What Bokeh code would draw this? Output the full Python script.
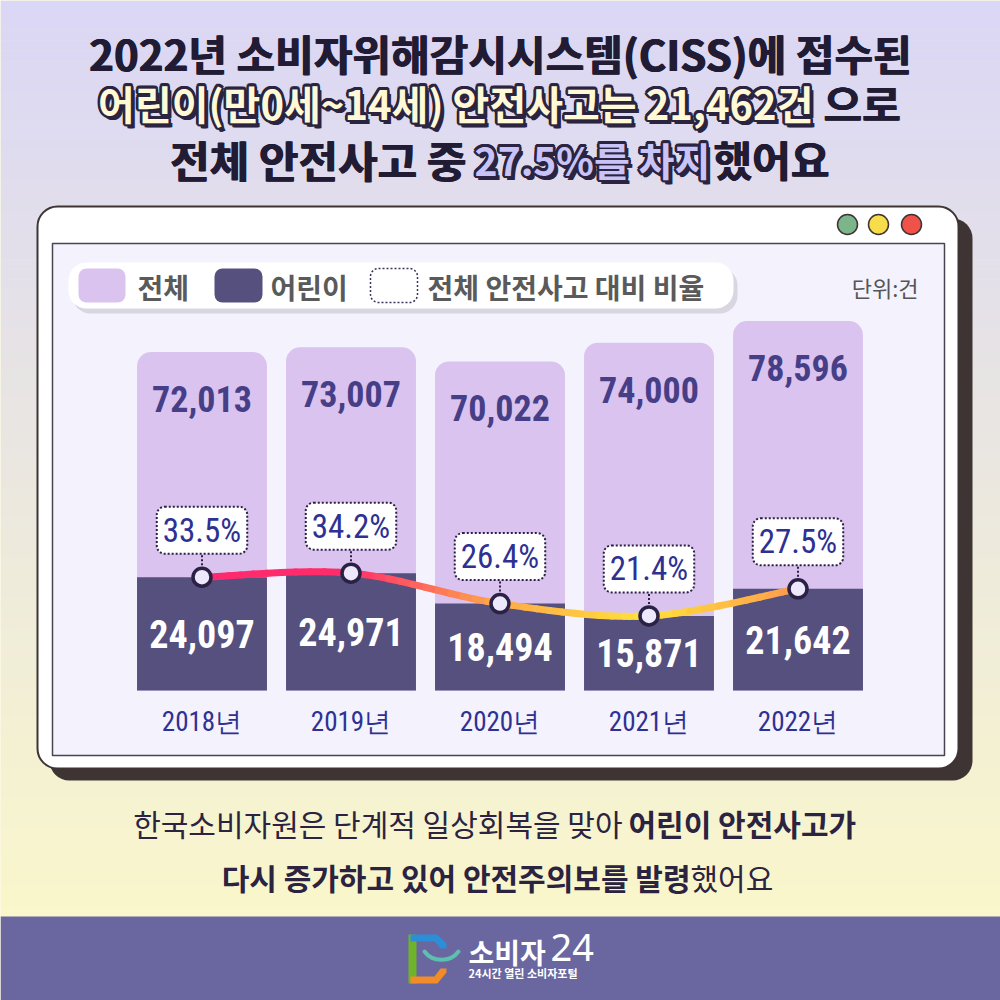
import numpy as np
from bokeh.plotting import figure
from bokeh.models import Range1d, ColumnDataSource
from bokeh.core.properties import value
from bokeh.embed import file_html
from bokeh.resources import INLINE

# ---------------- data ----------------
years = ["2018년", "2019년", "2020년", "2021년", "2022년"]
total = [72013, 73007, 70022, 74000, 78596]
children = [24097, 24971, 18494, 15871, 21642]
ratio = [33.5, 34.2, 26.4, 21.4, 27.5]
legend_labels = ["전체", "어린이", "전체 안전사고 대비 비율"]
unit_label = "단위:건"

KR = value("Noto Sans CJK KR")
COND = value("Roboto Condensed")

p = figure(width=1000, height=1000, x_range=Range1d(0, 1000), y_range=Range1d(1000, 0),
           output_backend="svg", toolbar_location=None, min_border=0,
           x_axis_location=None, y_axis_location=None, outline_line_color=None)
p.background_fill_color = "#f9f6cd"
p.border_fill_color = "#f9f6cd"
# category index scale for bars: slot spacing 149 px, centred on the page
p.extra_x_ranges = {"yr": Range1d(2 - 499.5 / 149, 2 + 500.5 / 149)}
p.extra_y_ranges = {"val": Range1d(-65957, 146809)}

# ---------------- background ----------------
n = 92
edges = np.linspace(0, 916, n + 1)
c0 = np.array([219, 215, 246]); c1 = np.array([250, 247, 204])
cols = []
for i in range(n):
    t = i / (n - 1)
    c = (c0 * (1 - t) + c1 * t).astype(int)
    cols.append("#%02x%02x%02x" % tuple(c))
p.quad(left=0, right=1000, top=edges[:-1], bottom=edges[1:] + 0.5, fill_color=cols, line_color=None)
p.quad(left=0, right=1000, top=916, bottom=1000, fill_color="#6a66a0", line_color=None)

# ---------------- window ----------------
p.quad(left=49, right=972, top=218, bottom=780, fill_color="#3d3433", line_color=None, border_radius=20)
p.quad(left=37, right=958, top=206, bottom=768, fill_color="white", line_color="#3d3433",
       line_width=2, border_radius=20)
p.quad(left=52, right=944, top=243, bottom=755, fill_color="#f4f2fd", line_color="#4a4450", line_width=1.5)
p.scatter(x=[847, 878, 911], y=[224, 224, 224], size=20,
          fill_color=["#7db58b", "#f7dc4c", "#f0524a"], line_color="#3d3433", line_width=1.5)

# ---------------- legend ----------------
p.quad(left=72, right=737, top=267, bottom=313, fill_color="#d9d6e2", line_color=None, border_radius=18)
p.quad(left=68, right=733, top=262, bottom=308, fill_color="white", line_color=None, border_radius=18)
p.quad(left=[78, 214], right=[125, 262], top=268, bottom=302,
       fill_color=["#dac3ef", "#56507e"], line_color=None, border_radius=8)
p.quad(left=370, right=417, top=268, bottom=302, fill_color="white", line_color="#3a3560",
       line_dash="2 2", line_width=1.5, border_radius=8)
p.text(x=[137, 270, 427], y=[286, 286, 286], text=legend_labels, text_font=KR,
       text_font_style="bold", text_font_size="28px", text_color="#5a5a5a",
       text_align="left", text_baseline="middle")
p.text(x=[918], y=[286], text=[unit_label], text_font=KR, text_font_size="22px",
       text_color="#555555", text_align="right", text_baseline="middle")

# ---------------- bars ----------------
src = ColumnDataSource(dict(
    idx=list(range(len(years))), years=years, total=total, children=children,
    child_mid=[v / 2 for v in children],
    total_labels=[f"{v:,}" for v in total],
    child_labels=[f"{v:,}" for v in children],
    ratio_labels=[f"{v}%" for v in ratio],
    zero=[0] * len(years),
))
R = dict(x_range_name="yr", y_range_name="val")
p.vbar(x="idx", top="total", bottom=0, width=0.872, source=src, fill_color="#dac3ef",
       line_color=None, border_radius=(14, 14, 0, 0), **R)
p.vbar(x="idx", top="children", bottom=0, width=0.872, source=src, fill_color="#56507e",
       line_color=None, **R)
p.text(x="idx", y="total", text="total_labels", source=src, y_offset=47, text_font=COND,
       text_font_style="bold", text_font_size="36px", text_color="#463f87",
       text_align="center", text_baseline="middle", **R)
p.text(x="idx", y="child_mid", text="child_labels", source=src, text_font=COND,
       text_font_style="bold", text_font_size="38px", text_color="white",
       text_align="center", text_baseline="middle", **R)
p.text(x="idx", y="zero", text="years", source=src, y_offset=31, text_font=COND,
       text_font_size="27px", text_color="#2e3192",
       text_align="center", text_baseline="middle", **R)

# ---------------- ratio curve ----------------
xs = np.arange(len(years), dtype=float)
ys = np.array(children, dtype=float)
node_cols = [(255, 42, 110), (255, 45, 108), (255, 168, 74), (255, 226, 58), (255, 150, 80)]

def blossom(P, u, v, w):
    Q = [(1 - u) * P[i] + u * P[i + 1] for i in range(3)]
    Rr = [(1 - v) * Q[i] + v * Q[i + 1] for i in range(2)]
    return (1 - w) * Rr[0] + w * Rr[1]

bx0, by0, bx1, by1, bcx0, bcy0, bcx1, bcy1, bcol = ([] for _ in range(9))
m = 12
npts = len(xs)
for i in range(npts - 1):
    i0 = max(i - 1, 0); i3 = min(i + 2, npts - 1)
    P0 = np.array([xs[i], ys[i]]); P3 = np.array([xs[i + 1], ys[i + 1]])
    C1 = P0 + (np.array([xs[i + 1], ys[i + 1]]) - np.array([xs[i0], ys[i0]])) / 6
    C2 = P3 - (np.array([xs[i3], ys[i3]]) - np.array([xs[i], ys[i]])) / 6
    P = [P0, C1, C2, P3]
    for k in range(m):
        a = k / m; b = (k + 1) / m
        q0 = blossom(P, a, a, a); q1 = blossom(P, a, a, b)
        q2 = blossom(P, a, b, b); q3 = blossom(P, b, b, b)
        bx0.append(q0[0]); by0.append(q0[1]); bx1.append(q3[0]); by1.append(q3[1])
        bcx0.append(q1[0]); bcy0.append(q1[1]); bcx1.append(q2[0]); bcy1.append(q2[1])
        t = (k + 0.5) / m
        c = np.array(node_cols[i]) * (1 - t) + np.array(node_cols[i + 1]) * t
        bcol.append("#%02x%02x%02x" % tuple(c.astype(int)))
p.bezier(x0=bx0, y0=by0, x1=bx1, y1=by1, cx0=bcx0, cy0=bcy0, cx1=bcx1, cy1=bcy1,
         line_color=bcol, line_width=7, line_cap="round", **R)

p.ray(x="idx", y="children", source=src, length=27, length_units="screen", angle=90,
      angle_units="deg", line_color="#2a2145", line_width=2, line_dash="2 2", **R)
p.scatter(x="idx", y="children", source=src, size=18, fill_color="#ede8fb",
          line_color="#2a2145", line_width=3.5, **R)
p.text(x="idx", y="children", text="ratio_labels", source=src, y_offset=-47,
       text_font=COND, text_font_size="33px", text_color="#2e3192",
       text_align="center", text_baseline="middle",
       background_fill_color="white", border_line_color="#2a2145", border_line_width=2,
       border_line_dash="2 2", padding=(6, 4), border_radius=8, **R)

# ---------------- titles ----------------
DARK = "#211c33"

def heavy(x, y, s, size, align, color=DARK, font_style="bold"):
    offs = [(-0.6, 0), (0.6, 0), (0, 0)]
    p.text(x=[x + dx for dx, dy in offs], y=[y + dy for dx, dy in offs], text=[s] * len(offs),
           text_font=KR, text_font_style=font_style, text_font_size=size, text_color=color,
           text_align=align, text_baseline="middle")

def outlined(x, y, s, size, fill, align):
    offs = [(2.6 * np.cos(a), 2.6 * np.sin(a)) for a in np.linspace(0, 2 * np.pi, 12, endpoint=False)]
    offs += [(3, 4), (4, 4.5), (2, 4.5)]
    p.text(x=[x + dx for dx, dy in offs], y=[y + dy for dx, dy in offs], text=[s] * len(offs),
           text_font=KR, text_font_style="bold", text_font_size=size, text_color="#2a2440",
           text_align=align, text_baseline="middle")
    p.text(x=[x], y=[y], text=[s], text_font=KR, text_font_style="bold", text_font_size=size,
           text_color=fill, text_align=align, text_baseline="middle")

heavy(500, 52, "2022년 소비자위해감시시스템(CISS)에 접수된", "42px", "center")
outlined(813, 102, "어린이(만0세~14세) 안전사고는 21,462건", "40px", "#fff9d6", "right")
heavy(823, 102, "으로", "42px", "left")
heavy(466, 158, "전체 안전사고 중", "43px", "right")
outlined(592, 158, "27.5%를 차지", "39px", "#c8c4f8", "center")
heavy(713, 158, "했어요", "42px", "left")

# ---------------- bottom text ----------------
BT = "#2b2340"
p.text(x=[622], y=[822], text=["한국소비자원은 단계적 일상회복을 맞아"], text_font=KR,
       text_font_size="30px", text_color=BT, text_align="right", text_baseline="middle")
p.text(x=[628], y=[822], text=["어린이 안전사고가"], text_font=KR, text_font_style="bold",
       text_font_size="30px", text_color=BT, text_align="left", text_baseline="middle")
p.text(x=[690], y=[876], text=["다시 증가하고 있어 안전주의보를 발령"], text_font=KR,
       text_font_style="bold", text_font_size="30px", text_color=BT, text_align="right",
       text_baseline="middle")
p.text(x=[690], y=[876], text=["했어요"], text_font=KR, text_font_size="30px", text_color=BT,
       text_align="left", text_baseline="middle")

# ---------------- logo ----------------
p.quad(left=408, right=416, top=934, bottom=983, fill_color="#6fb32a", line_color=None)
p.patch(x=[410, 437, 446, 446, 440, 434, 416, 410], y=[934, 934, 943, 948, 948, 941, 941, 941],
        fill_color="#2b8ed6", line_color=None)
p.patch(x=[410, 434, 440, 446, 446, 437, 410], y=[976, 976, 968, 968, 972, 983, 983],
        fill_color="#f28c28", line_color=None)
p.bezier(x0=[424], y0=[951], x1=[458], y1=[951], cx0=[432], cy0=[962], cx1=[450], cy1=[962],
         line_color="#5cc0b0", line_width=4, line_cap="round")
p.text(x=[468], y=[951], text=["소비자"], text_font=KR, text_font_style="bold",
       text_font_size="28px", text_color="white", text_align="left", text_baseline="middle")
p.text(x=[550], y=[947], text=["24"], text_font=value("Noto Sans"), text_font_size="38px",
       text_color="white", text_align="left", text_baseline="middle")
p.text(x=[468], y=[972], text=["24시간 열린 소비자포털"], text_font=KR, text_font_style="bold",
       text_font_size="11px", text_color="white", text_align="left", text_baseline="middle")

open("out.html", "w").write(file_html(p, INLINE))
